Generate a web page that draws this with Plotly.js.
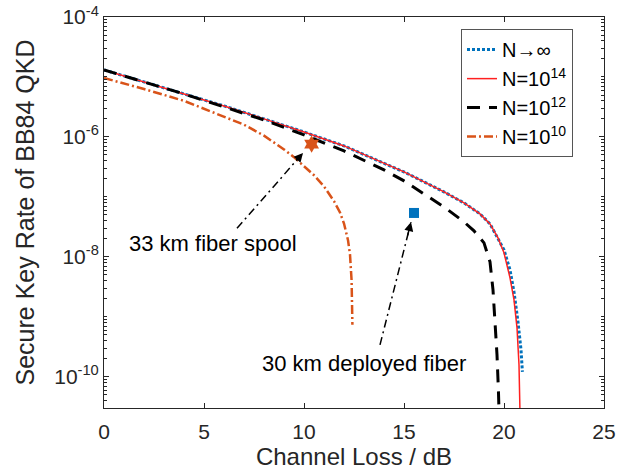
<!DOCTYPE html>
<html><head><meta charset="utf-8">
<script src="https://cdn.plot.ly/plotly-3.0.1.min.js"></script>
<style>body{margin:0;background:#fff}#c{width:640px;height:472px}</style>
</head><body><div id="c"></div>
<script>
// Channel loss (dB) and secure key rate values
const lossInf  = [0,2,4,6,8,10,12,14,15,16,17,18,18.8,19.3,19.7,20,20.3,20.5,20.7,20.85,20.92];
const rateInf  = [1.31e-5,8.26e-6,5.21e-6,3.29e-6,2.0e-6,1.21e-6,7.08e-7,3.69e-7,2.61e-7,1.78e-7,1.21e-7,7.94e-8,5.21e-8,3.55e-8,2.07e-8,1.31e-8,6.07e-9,2.61e-9,8.26e-10,2.82e-10,1.21e-10];
const loss14   = [0,2,4,6,8,10,12,14,15,16,17,18,18.8,19.3,19.7,20,20.3,20.5,20.65,20.75,20.8];
const rate14   = [1.31e-5,8.26e-6,5.21e-6,3.29e-6,2.0e-6,1.21e-6,7.08e-7,3.69e-7,2.61e-7,1.78e-7,1.21e-7,7.94e-8,5.21e-8,3.55e-8,2.07e-8,1.17e-8,4.47e-9,1.92e-9,6.56e-10,1.58e-10,2.5e-11];
const loss12   = [0,2,4,6,8,10,12,14,15,16,17,18,18.5,19,19.3,19.45,19.55,19.65,19.72,19.75];
const rate12   = [1.31e-5,8.26e-6,5.21e-6,3.16e-6,1.92e-6,1.08e-6,5.85e-7,2.82e-7,1.85e-7,1.12e-7,6.81e-8,3.83e-8,2.71e-8,1.71e-8,8.26e-9,2.82e-9,8.91e-10,2.33e-10,6.07e-11,2.8e-11];
const loss10   = [0,2,4,6,7,8,9,9.5,10,10.5,11,11.5,11.8,12.0,12.2,12.3,12.38,12.42];
const rate10   = [9.6e-6,6.3e-6,4.0e-6,2.2e-6,1.6e-6,1.05e-6,6.2e-7,4.6e-7,3.3e-7,2.3e-7,1.5e-7,8.5e-8,5.5e-8,3.6e-8,1.9e-8,1.1e-8,4.0e-9,7.4e-10];
const expLoss  = [10.38, 15.5];
const expRate  = [7.6e-7, 5.4e-8];
const labels   = ["33 km fiber spool", "30 km deployed fiber"];
const labelX   = [5.45, 13.0];
const labelY   = [1.7e-8, 1.7e-10];
const arrowX0  = [6.65, 13.8];
const arrowY0  = [3.0e-8, 3.4e-10];
const arrowX1  = [9.95, 15.35];
const arrowY1  = [5.4e-7, 3.8e-8];
const xTickVals = [0, 5, 10, 15, 20, 25];
const yTickVals = [1e-10, 1e-8, 1e-6, 1e-4];
const yTickText = ["10<sup>-10</sup>","10<sup>-8</sup>","10<sup>-6</sup>","10<sup>-4</sup>"];
const seriesNames = ["N\u2192\u221e","N=10<sup>14</sup>","N=10<sup>12</sup>","N=10<sup>10</sup>"];

const font = "Liberation Sans, Arial, sans-serif";
const ink = "#262626";
const traces = [
  {x: lossInf, y: rateInf, name: seriesNames[0], mode: "lines", line: {color: "#0072BD", width: 3, dash: "3px,2px"}},
  {x: loss14, y: rate14, name: seriesNames[1], mode: "lines", line: {color: "#FF2020", width: 1.5}},
  {x: loss12, y: rate12, name: seriesNames[2], mode: "lines", line: {color: "#000000", width: 3, dash: "13px,9px"}},
  {x: loss10, y: rate10, name: seriesNames[3], mode: "lines", line: {color: "#D95319", width: 2.5, dash: "9px,3px,2px,3px"}},
  {x: [expLoss[0]], y: [expRate[0]], mode: "markers", showlegend: false, marker: {symbol: "hexagram", size: 13, color: "#D95319", line: {width: 0}}},
  {x: [expLoss[1]], y: [expRate[1]], mode: "markers", showlegend: false, marker: {symbol: "square", size: 10, color: "#0072BD", line: {width: 0}}}
];
for (let i = 0; i < 2; i++) {
  traces.push({x: [arrowX0[i], arrowX1[i]], y: [arrowY0[i], arrowY1[i]], mode: "lines", showlegend: false, hoverinfo: "skip",
    line: {color: "#000", width: 1.5, dash: "8px,4px,2px,4px"}});
}
const annotations = [];
for (let i = 0; i < 2; i++) {
  annotations.push({x: labelX[i], y: Math.log10(labelY[i]), xref: "x", yref: "y", text: labels[i], showarrow: false,
    font: {family: font, size: 22, color: "#000"}});
  const fx = 0.12;
  annotations.push({x: arrowX1[i], y: Math.log10(arrowY1[i]),
    ax: arrowX1[i] - fx * (arrowX1[i] - arrowX0[i]),
    ay: Math.log10(arrowY1[i]) - fx * (Math.log10(arrowY1[i]) - Math.log10(arrowY0[i])),
    axref: "x", ayref: "y", xref: "x", yref: "y", text: "", showarrow: true, arrowhead: 2, arrowsize: 1.2, arrowwidth: 1.5, arrowcolor: "#000", standoff: 0});
}
const layout = {
  width: 640, height: 472,
  margin: {l: 104, r: 36, t: 17, b: 64},
  paper_bgcolor: "#fff", plot_bgcolor: "#fff",
  font: {family: font, size: 21, color: ink},
  showlegend: true,
  legend: {x: 0.714, y: 0.969, xanchor: "left", yanchor: "top", bgcolor: "#fff", bordercolor: "#555", borderwidth: 1,
    font: {family: font, size: 20, color: "#000"}, tracegroupgap: 0, itemwidth: 30},
  xaxis: {range: [0, 25], tickvals: xTickVals, ticks: "inside", ticklen: 5, tickcolor: ink, showline: true, linecolor: ink, linewidth: 1,
    mirror: "ticks", showgrid: false, zeroline: false, tickfont: {size: 21, color: ink}, ticklabelstandoff: 5,
    title: {text: "Channel Loss / dB", font: {size: 24, color: ink}, standoff: 4}},
  yaxis: {type: "log", range: [-10.52, -4], tickvals: yTickVals, ticktext: yTickText, ticks: "inside", ticklen: 5, tickcolor: ink,
    showline: true, linecolor: ink, linewidth: 1, mirror: "ticks", showgrid: false, zeroline: false, tickfont: {size: 21, color: ink},
    minor: {ticks: "inside", ticklen: 3, tickcolor: ink, dtick: "D1", showgrid: false},
    title: {text: "Secure Key Rate of BB84 QKD", font: {size: 25, color: ink}, standoff: 12}},
  annotations: annotations
};
Plotly.newPlot("c", traces, layout, {displayModeBar: false, staticPlot: true});
</script></body></html>
